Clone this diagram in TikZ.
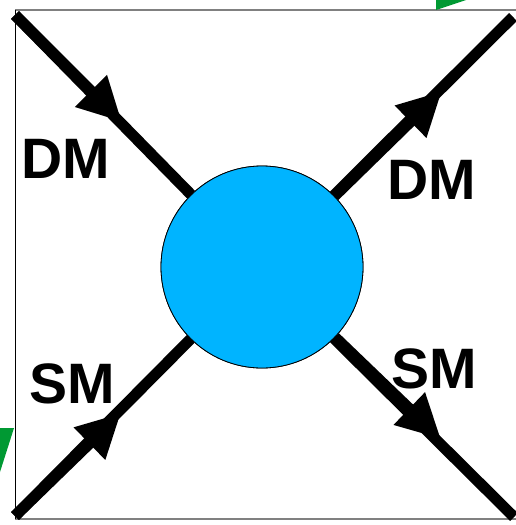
\documentclass[tikz,border=0pt]{standalone}
\usepackage{fontspec}
\setmainfont{Liberation Sans}
\usetikzlibrary{arrows.meta}
\definecolor{ballblue}{RGB}{0,180,255}
\definecolor{greenmark}{RGB}{0,153,51}
\definecolor{framegray}{RGB}{128,128,128}
\begin{document}
\begin{tikzpicture}[x=1pt,y=-1pt,
  leg/.style={line width=11pt, black},
  legarrow/.style={leg, -{Triangle[length=44pt,width=42pt]}},
  lbl/.style={font=\fontsize{57}{64}\selectfont\bfseries, inner sep=0pt, anchor=center},
  ball/.style={circle, draw=black, line width=0.8pt, fill=ballblue, minimum size=202pt, inner sep=0pt}]
\useasboundingbox (0,0) rectangle (516,525);
% frame
\draw[framegray, line width=1.2pt] (15,10) -- (516,10);
\draw[framegray, line width=1.2pt] (15,519) -- (516,519);
\draw[black, line width=1pt] (15,10) -- (15,519);
% green marks
\fill[greenmark] (436,10) -- (436,0) -- (466,0) -- cycle;
\fill[greenmark] (0,428) -- (14,428) -- (0,472) -- cycle;
% corners and arrow tips
\coordinate (tl) at (15,15);
\coordinate (tr) at (513,17);
\coordinate (bl) at (15,516);
\coordinate (br) at (514,517);
\coordinate (tlA) at (122,122);
\coordinate (trA) at (442,91);
\coordinate (blA) at (121,413);
\coordinate (brA) at (441,439);
\node[ball] (c) at (262,267) {};
% legs
\draw[leg] (tl) -- (c);
\draw[leg] (c) -- (tr);
\draw[leg] (bl) -- (c);
\draw[leg] (c) -- (br);
\draw[legarrow] (tl) -- (tlA);
\draw[legarrow] (c) -- (trA);
\draw[legarrow] (bl) -- (blA);
\draw[legarrow] (c) -- (brA);
\node[ball] at (c) {};
% labels
\node[lbl] (dml) at (66,159) {DM};
\node[lbl] (dmr) at (432,180) {DM};
\node[lbl] (sml) at (72,384) {SM};
\node[lbl] (smr) at (434,369) {SM};
\end{tikzpicture}
\end{document}
